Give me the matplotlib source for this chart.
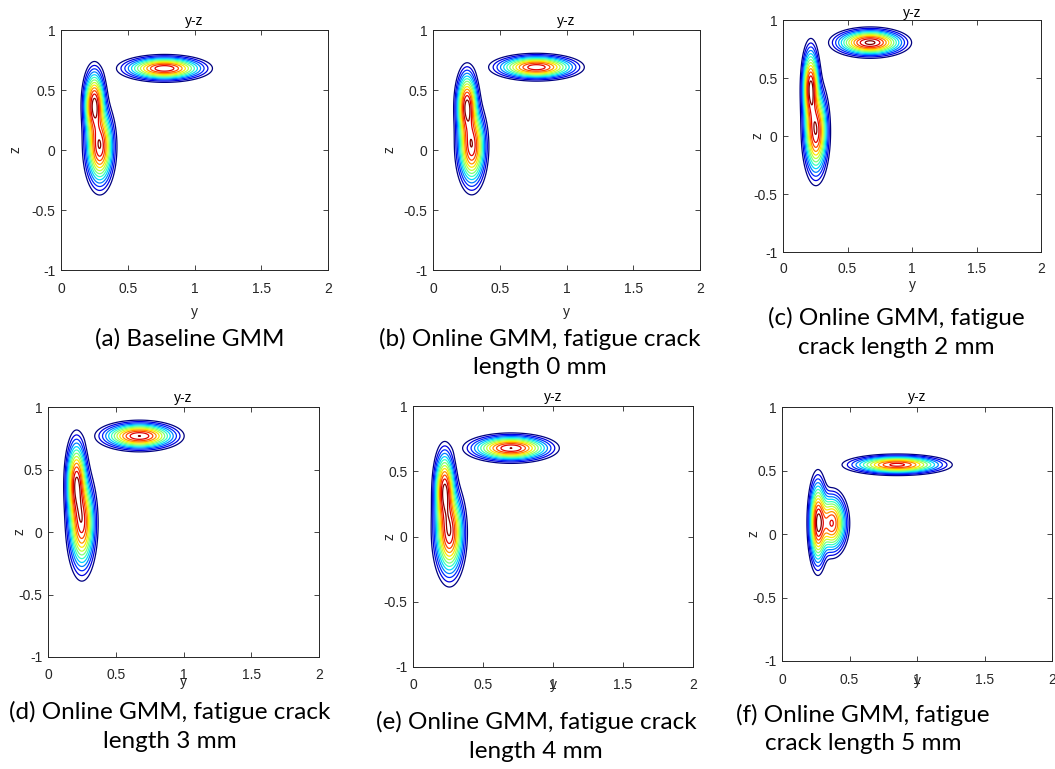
import matplotlib
matplotlib.use('Agg')
import matplotlib.pyplot as plt
import numpy as np

# GMM parameters: (y, z) means, (y, z) std devs, weights
means_a = [(0.25, 0.38), (0.29, 0.03), (0.775, 0.68)]
sds_a = [(0.039, 0.14), (0.051, 0.16), (0.142, 0.046)]
weights_a = [0.28, 0.40, 0.32]

means_b = [(0.255, 0.37), (0.29, 0.03), (0.775, 0.69)]
sds_b = [(0.039, 0.14), (0.051, 0.16), (0.142, 0.046)]
weights_b = [0.28, 0.40, 0.32]

means_c = [(0.215, 0.42), (0.255, 0.04), (0.675, 0.805)]
sds_c = [(0.032, 0.165), (0.045, 0.185), (0.126, 0.053)]
weights_c = [0.26, 0.40, 0.34]

means_d = [(0.21, 0.40), (0.25, 0.07), (0.675, 0.768)]
sds_d = [(0.037, 0.165), (0.048, 0.185), (0.13, 0.05)]
weights_d = [0.28, 0.40, 0.32]

means_e = [(0.226, 0.36), (0.26, 0.03), (0.70, 0.677)]
sds_e = [(0.036, 0.145), (0.051, 0.165), (0.136, 0.046)]
weights_e = [0.26, 0.42, 0.32]

means_f = [(0.266, 0.09), (0.37, 0.085), (0.853, 0.545)]
sds_f = [(0.032, 0.165), (0.053, 0.112), (0.163, 0.034)]
weights_f = [0.33, 0.34, 0.33]

captions = [
    "(a) Baseline GMM",
    "(b) Online GMM, fatigue crack\nlength 0 mm",
    "(c) Online GMM, fatigue\ncrack length 2 mm",
    "(d) Online GMM, fatigue crack\nlength 3 mm",
    "(e) Online GMM, fatigue crack\nlength 4 mm",
    "(f) Online GMM, fatigue\ncrack length 5 mm",
]

xticks = [0, 0.5, 1, 1.5, 2]
xticklabels = ["0", "0.5", "1", "1.5", "2"]
yticks = [-1, -0.5, 0, 0.5, 1]
yticklabels = ["-1", "-0.5", "0", "0.5", "1"]

panels = [
    (means_a, sds_a, weights_a),
    (means_b, sds_b, weights_b),
    (means_c, sds_c, weights_c),
    (means_d, sds_d, weights_d),
    (means_e, sds_e, weights_e),
    (means_f, sds_f, weights_f),
]

W, H = 1055, 769
# axes boxes in pixels: left, top, right, bottom
boxes = [
    (61, 30, 328, 270),
    (433, 30, 700, 270),
    (783, 20, 1041, 252),
    (48, 407, 319, 657),
    (413, 406, 693, 667),
    (782, 407, 1052, 661),
]
# xlabel centre y, ylabel centre x, tick label pad (px)
xlab_y = [312, 312, 285, 682, 685, 681]
ylab_x = [16, 389, 758, 20, 389, 753]
xpad = [12, 12, 10, 11, 11, 12]
title_off = [9, 9, 7, 9, 9, 10]
# caption centre x, first line centre y
cap_pos = [(190, 337), (540, 337), (896, 316), (170, 710), (536, 720), (863, 713)]

ink = '#262626'
n_lev = 13
lev_colors = [plt.cm.jet(i / (n_lev - 1)) for i in range(n_lev)]

fig = plt.figure(figsize=(W / 100, H / 100), dpi=100)

gy = np.linspace(0, 2, 600)
gz = np.linspace(-1, 1, 600)
Y, Z = np.meshgrid(gy, gz)

for k, (means, sds, weights) in enumerate(panels):
    l, t, r, b = boxes[k]
    ax = fig.add_axes([l / W, 1 - b / H, (r - l) / W, (b - t) / H])

    # mixture density on the grid
    dens = np.zeros_like(Y)
    for (my, mz), (sy, sz), w in zip(means, sds, weights):
        dens += w / (2 * np.pi * sy * sz) * np.exp(
            -0.5 * (((Y - my) / sy) ** 2 + ((Z - mz) / sz) ** 2))
    levels = dens.max() * np.linspace(0.19, 0.95, n_lev) ** 2
    ax.contour(Y, Z, dens, levels=levels, colors=lev_colors, linewidths=0.9)

    ax.set_xlim(0, 2)
    ax.set_ylim(-1, 1)
    ax.set_xticks(xticks)
    ax.set_xticklabels(xticklabels)
    ax.set_yticks(yticks)
    ax.set_yticklabels(yticklabels)
    ax.tick_params(direction='in', top=True, right=True, length=3.5,
                   width=0.6, colors=ink, labelsize=10)
    ax.tick_params(axis='x', pad=xpad[k] * 0.72)
    ax.tick_params(axis='y', pad=4)
    for sp in ax.spines.values():
        sp.set_color(ink)
        sp.set_linewidth(0.7)
    for lab in ax.get_xticklabels() + ax.get_yticklabels():
        lab.set_family('Liberation Sans')

    h = b - t
    w_ax = r - l
    ax.set_xlabel('y', fontsize=10, color=ink, family='Liberation Sans')
    ax.xaxis.label.set_va('center')
    ax.xaxis.set_label_coords(0.5, -(xlab_y[k] - b) / h)
    ax.set_ylabel('z', fontsize=10, color=ink, family='Liberation Sans')
    ax.yaxis.label.set_va('center')
    ax.yaxis.set_label_coords((ylab_x[k] - l) / w_ax, 0.5)
    ax.text(0.5, 1 + title_off[k] / h, 'y-z', transform=ax.transAxes,
            ha='center', va='center', fontsize=10, color='black',
            family='Liberation Sans')

    # caption under the panel, one text per line
    cx, cy = cap_pos[k]
    for j, line in enumerate(captions[k].split('\n')):
        fig.text(cx / W, 1 - (cy + 29 * j) / H, line, ha='center',
                 va='center_baseline', fontsize=17.5, family='Lato',
                 color='black')

fig.savefig('out.png', dpi=100)
